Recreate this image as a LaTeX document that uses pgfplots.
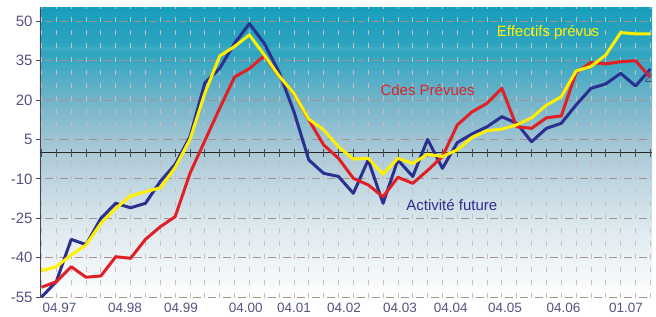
\documentclass[border=0pt]{standalone}
\usepackage{fontspec}
\setmainfont{Liberation Sans}
\usepackage{pgfplots}
\pgfplotsset{compat=1.18}
\definecolor{tealtop}{RGB}{22,158,188}
\definecolor{bgD}{RGB}{45,164,192}
\definecolor{bgBand}{RGB}{66,170,195}
\definecolor{bgC}{RGB}{115,180,202}
\definecolor{bgB}{RGB}{172,202,215}
\definecolor{bgA}{RGB}{222,233,239}
\definecolor{hgrid}{RGB}{165,145,142}
\definecolor{vgrid}{RGB}{200,190,190}
\definecolor{tickcol}{RGB}{85,82,130}
\definecolor{axcol}{RGB}{70,70,80}
\definecolor{cblue}{RGB}{43,47,143}
\definecolor{cred}{RGB}{225,32,38}
\definecolor{cyellow}{RGB}{255,240,0}
\pgfdeclareverticalshading{bgshade}{100bp}{color(0bp)=(white); color(25bp)=(white); color(37bp)=(bgA); color(50bp)=(bgB); color(59bp)=(bgC); color(67.3bp)=(bgD); color(67.9bp)=(bgBand); color(68.6bp)=(bgD); color(75bp)=(tealtop); color(100bp)=(tealtop)}
\pgfplotstableread{
k blue red yellow
0 -55 -51.2 -44.9
1 -49 -49.1 -43.4
2 -33 -43.4 -38.9
3 -35 -47.4 -35.1
4 -25 -46.9 -26.9
5 -19.3 -39.6 -21.2
6 -21 -40.2 -16.5
7 -19.3 -33 -14.9
8 -11 -28.2 -13.4
9 -4.5 -24.4 -5.7
10 6 -7.9 5
11 26.5 4.5 22.5
12 32 16.8 36.7
13 41.5 28.7 40.3
14 49 31.9 44.7
15 41.5 36.8 37.1
16 30.5 29 29.1
17 15.5 22.4 22.5
18 -2.8 12.4 12.7
19 -7.9 2.9 8.6
20 -9.1 -2.2 2.2
21 -15.5 -9.8 -2.5
22 -2.8 -12.3 -2.2
23 -19.3 -16.8 -8.2
24 -2.8 -9.4 -2.2
25 -9.1 -11.7 -4.1
26 5 -6.8 -0.7
27 -6 -1.5 -1.5
28 3.8 10.5 1
29 7.1 15.5 5.8
30 9.8 18.7 8.3
31 13.6 24.4 8.9
32 11.1 9.8 10.5
33 4.1 9.2 13.2
34 9.2 13.2 18
35 11.1 13.9 21.2
36 18.1 30.4 31
37 24.4 34.2 32.7
38 26.1 33.7 37.1
39 30.1 34.5 45.6
40 25.3 34.9 45.1
41 31.7 28.5 45.1
}\datatable
\begin{document}
\begin{tikzpicture}
\useasboundingbox (-40pt,-17.7pt) rectangle (616pt,298.3pt);
\begin{axis}[
  at={(0pt,0pt)}, anchor=south west,
  width=612pt, height=291pt, scale only axis,
  xmin=-0.1, xmax=41.11, ymin=-55.4, ymax=55.2,
  axis line style={draw=none},
  axis background/.style={shading=bgshade},
  xtick={1.21,5.62,9.39,13.75,17.0,20.37,24.14,27.56,31.21,35.15,39.36},
  xticklabels={04.97,04.98,04.99,04.00,04.01,04.02,04.03,04.04,04.05,04.06,01.07},
  xtick style={draw=none},
  minor xtick={0,...,41},
  minor tick length=0pt,
  xminorgrids=true,
  x grid style={color=vgrid, line width=0.8pt, dash pattern=on 5pt off 8.15pt},
  ytick={-55,-40,-25,-10,5,20,35,50},
  ymajorgrids=true,
  y grid style={color=hgrid, line width=0.8pt, dash pattern=on 8pt off 6.85pt, dash phase=9.95pt},
  ytick pos=left, xtick pos=bottom,
  tick align=outside, major tick length=4pt,
  ytick style={draw=axcol, line width=0.8pt},
  /pgf/number format/assume math mode=true,
  xticklabel style={font=\fontsize{13.5}{16}\selectfont, text=tickcol, anchor=north, inner sep=0pt, text height=9.7pt, text depth=0pt},
  yticklabel style={font=\fontsize{15}{18}\selectfont, text=tickcol},
]
\draw[axcol, line width=0.9pt] (rel axis cs:0,0) -- (rel axis cs:0,1);
\draw[black!85, line width=0.9pt] (axis cs:-0.1,0) -- (axis cs:41.11,0);
\pgfplotsinvokeforeach{0,...,41}{\draw[black!70, line width=0.8pt] ([yshift=-4pt]axis cs:#1,0) -- ([yshift=4pt]axis cs:#1,0);}
\addplot[cblue, line width=3pt, line join=round, no markers] table[x=k, y=blue] {\datatable};
\addplot[cred, line width=3pt, line join=round, no markers] table[x=k, y=red] {\datatable};
\addplot[cyellow, line width=3pt, line join=round, no markers] table[x=k, y=yellow] {\datatable};
\node[text=cyellow, font=\fontsize{15}{18}\selectfont] at (axis cs:34.11,45.46) {Effectifs prévus};
\node[text=cred, font=\fontsize{15}{18}\selectfont] at (axis cs:26.0,23.8) {Cdes Prévues};
\node[text=cblue, font=\fontsize{15}{18}\selectfont] at (axis cs:27.63,-20.1) {Activité future};
\node[text=tickcol, anchor=west, inner sep=0pt, font=\fontsize{15}{18}\selectfont] at (axis cs:40.57,28.7) {29};
\end{axis}
\end{tikzpicture}
\end{document}
